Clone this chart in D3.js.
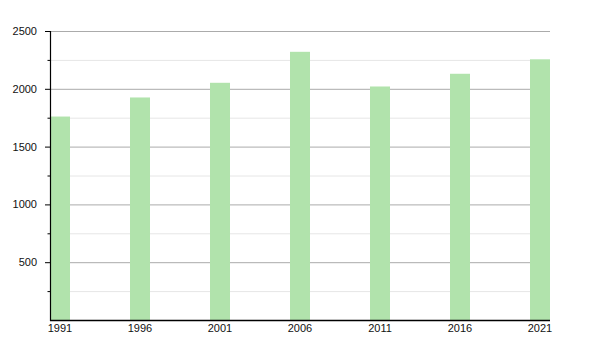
<!DOCTYPE html>
<html>
<head>
<meta charset="utf-8">
<script src="https://cdn.jsdelivr.net/npm/d3@7"></script>
<style>
  body { margin: 0; background: #fff; }
  text { font-family: "Liberation Sans", Arial, sans-serif; font-size: 11px; fill: #111; }
</style>
</head>
<body>
<div class="chart"></div>
<script>
const width = 600;
const height = 350;

const years = [1991, 1996, 2001, 2006, 2011, 2016, 2021];
const population = [1760, 1925, 2052, 2320, 2020, 2130, 2255];
const majorTicks = [500, 1000, 1500, 2000, 2500];
const minorTicks = [250, 750, 1250, 1750, 2250];

const plotLeft = 50, plotRight = 550, plotTop = 31, plotBottom = 320;
const barWidth = 20;

const svg = d3.select(".chart").append("svg")
   .attr("width", width)
   .attr("height", height);

const y = d3.scaleLinear().domain([0, 2500]).range([plotBottom, plotTop]);
const x = d3.scaleLinear().domain([1991, 2021]).range([plotLeft, plotRight - barWidth]);

// soft edge on the bars
const defs = svg.append("defs");
defs.append("filter").attr("id", "soft")
   .attr("x", "-20%").attr("y", "-5%").attr("width", "140%").attr("height", "110%")
   .append("feGaussianBlur").attr("stdDeviation", 0.6);

// gridlines
svg.append("g").selectAll("line").data(minorTicks).enter().append("line")
   .attr("x1", plotLeft).attr("x2", plotRight)
   .attr("y1", d => y(d) + 0.5).attr("y2", d => y(d) + 0.5)
   .attr("stroke", "#e6e6e6").attr("stroke-width", 1);

svg.append("g").selectAll("line").data(majorTicks).enter().append("line")
   .attr("x1", plotLeft).attr("x2", plotRight)
   .attr("y1", d => y(d) + 0.5).attr("y2", d => y(d) + 0.5)
   .attr("stroke", "#ababab").attr("stroke-width", 1);

// bars
svg.append("g").attr("filter", "url(#soft)")
   .selectAll("rect").data(years).enter().append("rect")
   .attr("x", d => x(d))
   .attr("width", barWidth)
   .attr("y", (d, i) => y(population[i]))
   .attr("height", (d, i) => y(0) - y(population[i]))
   .attr("fill", "#b1e3ac");

// y axis
const yAxis = d3.axisLeft(y).tickValues(majorTicks).tickFormat(d3.format("d")).tickSize(5).tickPadding(8);
const gy = svg.append("g").attr("transform", `translate(${plotLeft},0)`).call(yAxis);
gy.select(".domain").remove();
gy.selectAll("line").attr("stroke", "#000");
gy.selectAll("text").style("font-family", '"Liberation Sans", Arial, sans-serif').style("font-size", "11px").attr("fill", "#111");

svg.append("g").selectAll("line").data(minorTicks).enter().append("line")
   .attr("x1", plotLeft - 2.5).attr("x2", plotLeft)
   .attr("y1", d => y(d) + 0.5).attr("y2", d => y(d) + 0.5)
   .attr("stroke", "#000");

svg.append("line")
   .attr("x1", plotLeft + 0.5).attr("x2", plotLeft + 0.5)
   .attr("y1", plotTop).attr("y2", plotBottom + 1)
   .attr("stroke", "#000").attr("stroke-width", 1.2);

// x axis
svg.append("line")
   .attr("x1", plotLeft).attr("x2", plotRight)
   .attr("y1", plotBottom + 0.5).attr("y2", plotBottom + 0.5)
   .attr("stroke", "#000").attr("stroke-width", 1.5);

svg.append("g").selectAll("text").data(years).enter().append("text")
   .attr("x", d => x(d) + barWidth / 2)
   .attr("y", plotBottom + 12)
   .attr("text-anchor", "middle")
   .text(d => d);
</script>
</body>
</html>
